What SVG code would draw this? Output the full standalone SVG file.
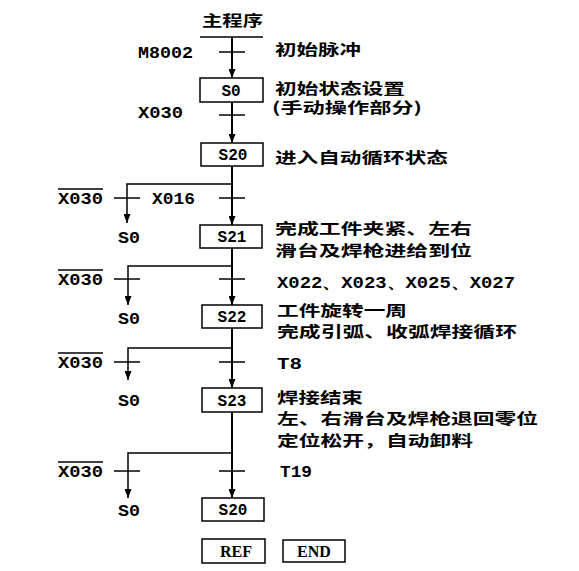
<svg xmlns="http://www.w3.org/2000/svg" width="579" height="571" viewBox="0 0 579 571">
<style>
.bg{fill:#fff}
.main{stroke:#000;stroke-width:2;fill:none}
.br{stroke:#000;stroke-width:1.5;fill:none}
.ct{stroke:#000;stroke-width:1.5}
.box{fill:#fff;stroke:#000;stroke-width:1.5}
.cn{font-family:"Noto Sans CJK SC","Noto Sans",sans-serif;font-size:15px;font-weight:bold;fill:#000}
.lt{font-family:"Liberation Mono",monospace;font-size:16px;font-weight:bold;fill:#000}
.bx{font-family:"Liberation Mono",monospace;font-size:16px;font-weight:bold;fill:#000;text-anchor:middle}
.bs{font-family:"Liberation Serif",serif;font-size:16px;font-weight:bold;fill:#000;text-anchor:middle}
</style>
<defs>
<marker id="ah" markerUnits="userSpaceOnUse" markerWidth="9" markerHeight="7" refX="9" refY="3.5" orient="auto">
<path d="M0,0 L9,3.5 L0,7 z" fill="#000"/>
</marker>
</defs>
<rect class="bg" width="579" height="571"/>

<g id="connectors">
<line class="ct" x1="200" y1="37" x2="263" y2="37"/>
<path class="main" d="M232,37 V78" marker-end="url(#ah)"/>
<path class="main" d="M232,102 V143" marker-end="url(#ah)"/>
<path class="main" d="M232,166 V225" marker-end="url(#ah)"/>
<path class="main" d="M232,248 V305" marker-end="url(#ah)"/>
<path class="main" d="M232,328 V388" marker-end="url(#ah)"/>
<path class="main" d="M232,412 V498" marker-end="url(#ah)"/>
<path class="br" d="M232,184 H127 V223" marker-end="url(#ah)"/>
<path class="br" d="M232,266 H128 V305" marker-end="url(#ah)"/>
<path class="br" d="M232,348 H128 V380" marker-end="url(#ah)"/>
<path class="br" d="M232,453 H128 V498" marker-end="url(#ah)"/>
<line class="ct" x1="219" y1="52" x2="245" y2="52"/>
<line class="ct" x1="219" y1="115" x2="245" y2="115"/>
<line class="ct" x1="219" y1="198" x2="245" y2="198"/>
<line class="ct" x1="219" y1="279" x2="245" y2="279"/>
<line class="ct" x1="219" y1="362" x2="245" y2="362"/>
<line class="ct" x1="219" y1="471" x2="245" y2="471"/>
<line class="ct" x1="114" y1="198" x2="140" y2="198"/>
<line class="ct" x1="114" y1="279" x2="140" y2="279"/>
<line class="ct" x1="114" y1="362" x2="140" y2="362"/>
<line class="ct" x1="114" y1="471" x2="140" y2="471"/>
</g>

<g id="title"><text class="cn" x="202" y="26" textLength="61" lengthAdjust="spacingAndGlyphs">主程序</text></g>

<g id="S0">
<rect class="box" x="200" y="78" width="63" height="24"/>
<text class="bx" x="231" y="96">S0</text>
</g>
<g id="S20">
<rect class="box" x="201" y="143" width="62" height="23"/>
<text class="bx" x="233" y="160">S20</text>
</g>
<g id="S21">
<rect class="box" x="200" y="225" width="62" height="23"/>
<text class="bx" x="232" y="242">S21</text>
</g>
<g id="S22">
<rect class="box" x="202" y="305" width="60" height="23"/>
<text class="bx" x="232" y="322">S22</text>
</g>
<g id="S23">
<rect class="box" x="202" y="388" width="60" height="24"/>
<text class="bx" x="232" y="406">S23</text>
</g>
<g id="S20b">
<rect class="box" x="202" y="498" width="62" height="23"/>
<text class="bx" x="233" y="515">S20</text>
</g>
<g id="REF">
<rect class="box" x="202" y="539" width="63" height="24"/>
<text class="bs" x="236" y="557">REF</text>
</g>
<g id="END">
<rect class="box" x="283" y="540" width="62" height="22"/>
<text class="bs" x="314" y="557">END</text>
</g>

<g id="labels">
<text class="lt" x="138" y="58" textLength="55" lengthAdjust="spacingAndGlyphs">M8002</text>
<text class="lt" x="138" y="118" textLength="45" lengthAdjust="spacingAndGlyphs">X030</text>
<text class="lt" x="58" y="204" textLength="45" lengthAdjust="spacingAndGlyphs">X030</text>
<line class="ct" x1="58" y1="189" x2="103" y2="189"/>
<text class="lt" x="152" y="204" textLength="43" lengthAdjust="spacingAndGlyphs">X016</text>
<text class="lt" x="58" y="285" textLength="45" lengthAdjust="spacingAndGlyphs">X030</text>
<line class="ct" x1="58" y1="270" x2="103" y2="270"/>
<text class="lt" x="58" y="368" textLength="45" lengthAdjust="spacingAndGlyphs">X030</text>
<line class="ct" x1="58" y1="353" x2="103" y2="353"/>
<text class="lt" x="58" y="477" textLength="45" lengthAdjust="spacingAndGlyphs">X030</text>
<line class="ct" x1="58" y1="462" x2="103" y2="462"/>
<text class="lt" x="118" y="243" textLength="22" lengthAdjust="spacingAndGlyphs">S0</text>
<text class="lt" x="118" y="324" textLength="22" lengthAdjust="spacingAndGlyphs">S0</text>
<text class="lt" x="118" y="406" textLength="22" lengthAdjust="spacingAndGlyphs">S0</text>
<text class="lt" x="118" y="516" textLength="22" lengthAdjust="spacingAndGlyphs">S0</text>
<text class="lt" x="277" y="288" textLength="238" lengthAdjust="spacingAndGlyphs">X022、X023、X025、X027</text>
<text class="lt" x="277" y="369" textLength="25" lengthAdjust="spacingAndGlyphs">T8</text>
<text class="lt" x="280" y="477" textLength="32" lengthAdjust="spacingAndGlyphs">T19</text>
<text class="cn" x="275" y="55" textLength="86" lengthAdjust="spacingAndGlyphs">初始脉冲</text>
<text class="cn" x="275" y="94" textLength="130" lengthAdjust="spacingAndGlyphs">初始状态设置</text>
<text class="cn" x="272" y="113" textLength="150" lengthAdjust="spacingAndGlyphs">(手动操作部分)</text>
<text class="cn" x="275" y="163" textLength="173" lengthAdjust="spacingAndGlyphs">进入自动循环状态</text>
<text class="cn" x="275" y="234" textLength="197" lengthAdjust="spacingAndGlyphs">完成工件夹紧、左右</text>
<text class="cn" x="275" y="256" textLength="197" lengthAdjust="spacingAndGlyphs">滑台及焊枪进给到位</text>
<text class="cn" x="277" y="316" textLength="130" lengthAdjust="spacingAndGlyphs">工件旋转一周</text>
<text class="cn" x="277" y="337" textLength="240" lengthAdjust="spacingAndGlyphs">完成引弧、收弧焊接循环</text>
<text class="cn" x="277" y="403" textLength="86" lengthAdjust="spacingAndGlyphs">焊接结束</text>
<text class="cn" x="277" y="424" textLength="261" lengthAdjust="spacingAndGlyphs">左、右滑台及焊枪退回零位</text>
<text class="cn" x="277" y="446" textLength="196" lengthAdjust="spacingAndGlyphs">定位松开，自动卸料</text>
</g>
</svg>
